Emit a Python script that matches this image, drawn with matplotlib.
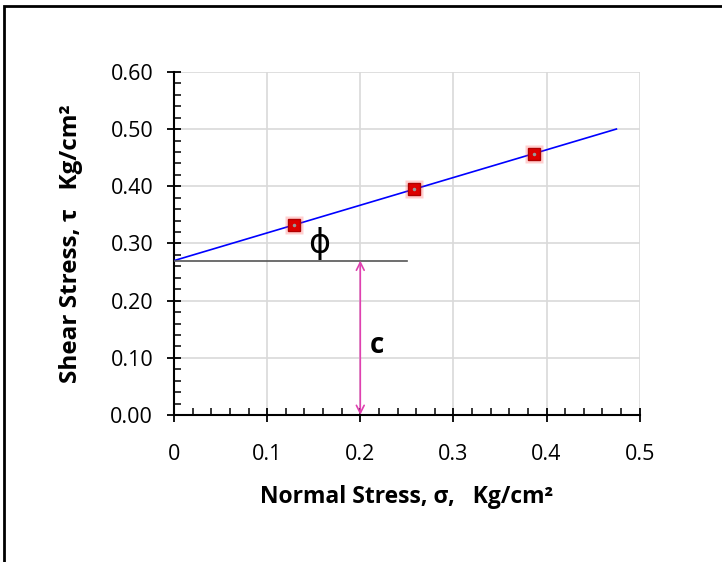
import numpy as np
import matplotlib.pyplot as plt
from matplotlib.ticker import MultipleLocator, FormatStrFormatter
from matplotlib.patches import Rectangle

plt.rcParams['font.family'] = ['Open Sans', 'DejaVu Sans']

# test data
normal_stress = [0.129, 0.258, 0.387]
shear_stress = [0.332, 0.395, 0.457]

# failure envelope
cohesion = 0.27
slope = 0.4845
fit_x = [0.0, 0.475]
fit_y = [cohesion + slope * x for x in fit_x]

xticks = [0, 0.1, 0.2, 0.3, 0.4, 0.5]
xticklabels = ['0', '0.1', '0.2', '0.3', '0.4', '0.5']

fig = plt.figure(figsize=(7.22, 5.62), dpi=100)
ax = fig.add_axes([0.241, 0.2616, 0.645, 0.6104])

# outer frame (only top/left visible)
fig.patches.append(Rectangle((0.005, -0.1), 1.2, 1.1 - 0.011, transform=fig.transFigure,
                             fill=False, edgecolor='black', lw=2, zorder=0))

ax.grid(True, color='#d9d9d9', lw=1.2, zorder=0)
ax.set_axisbelow(True)

ax.plot(fit_x, fit_y, color='#0000ff', lw=1.2, zorder=3)
ax.plot([0, 0.25], [cohesion, cohesion], color='#555555', lw=1.2, zorder=3)
ax.annotate('', xy=(0.2, 0.0), xytext=(0.2, cohesion),
            arrowprops=dict(arrowstyle='<->', color='#e040b0', lw=1.2,
                            mutation_scale=14, shrinkA=0, shrinkB=0), zorder=3)

ax.plot(normal_stress, shear_stress, 's', ms=12.5, color='#ff4040', alpha=0.25,
        mec='none', zorder=4)
ax.plot(normal_stress, shear_stress, 's', ms=9, color='#dd0000', mec='#b00000',
        mew=1, zorder=5)
ax.plot(normal_stress, shear_stress, '.', ms=3, color='#999999', zorder=6)

ax.text(0.156, 0.298, 'ϕ', fontsize=24, ha='center', va='center', zorder=6)
ax.text(0.218, 0.122, 'c', fontsize=20, fontweight='bold', ha='center', va='center')

ax.set_xlim(0, 0.5)
ax.set_ylim(0, 0.6)
ax.set_xticks(xticks)
ax.set_xticklabels(xticklabels)
ax.xaxis.set_minor_locator(MultipleLocator(0.02))
ax.yaxis.set_major_locator(MultipleLocator(0.1))
ax.yaxis.set_minor_locator(MultipleLocator(0.02))
ax.yaxis.set_major_formatter(FormatStrFormatter('%.2f'))

ax.tick_params(which='major', direction='inout', length=10, width=1.3,
               labelsize=15.5, colors='black')
ax.tick_params(axis='y', which='major', pad=10)
ax.tick_params(axis='x', which='major', pad=16)
ax.tick_params(which='minor', direction='in', length=5, width=1.1)

for s in ['top', 'right']:
    ax.spines[s].set_visible(False)
for s in ['left', 'bottom']:
    ax.spines[s].set_linewidth(1.5)

ax.set_xlabel('Normal Stress, σ,   Kg/cm²', fontsize=16.5, fontweight='bold', labelpad=14)
ax.set_ylabel('Shear Stress, τ   Kg/cm²', fontsize=17.5, fontweight='bold', labelpad=20)

fig.savefig('out.png', dpi=100)
